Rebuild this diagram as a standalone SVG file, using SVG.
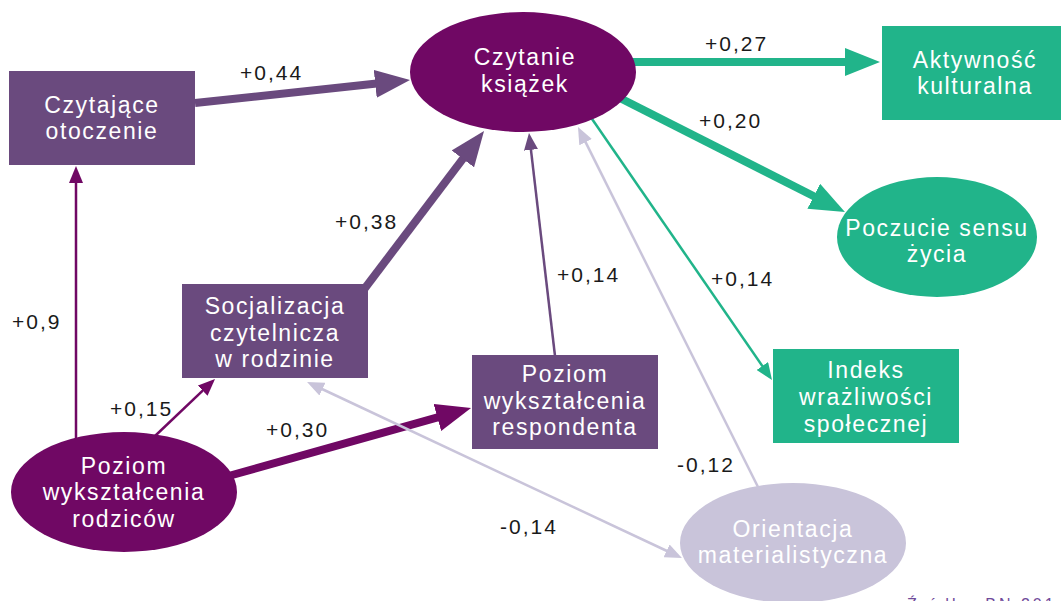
<svg xmlns="http://www.w3.org/2000/svg" width="1061" height="601" viewBox="0 0 1061 601">
<style>
.node{font-family:"Liberation Sans",Arial,sans-serif;font-size:23px;letter-spacing:1.6px;fill:#ffffff;text-anchor:middle}
.lbl{font-family:"Liberation Sans",Arial,sans-serif;font-size:21px;letter-spacing:2px;fill:#1a1a1a}
.purple{fill:#6a4a7e}
.magenta{fill:#700864}
.green{fill:#21b48a}
.lav{fill:#c9c4da}
.c{fill:none;stroke-linecap:butt}
.cp{stroke:#6a4a7e}
.cm{stroke:#700864}
.cg{stroke:#21b48a}
.cl{stroke:#c9c4da}
.thick{stroke-width:8}
.thin{stroke-width:2.5}
.src{font-family:"Liberation Sans",Arial,sans-serif;font-size:16px;letter-spacing:3px;fill:#6f4a9a}
</style>
<defs>
<marker id="bigP" markerUnits="userSpaceOnUse" markerWidth="36" markerHeight="28" refX="4" refY="14" orient="auto"><path d="M0,0 L35,14 L0,28 Z" fill="#6a4a7e"/></marker>
<marker id="bigM" markerUnits="userSpaceOnUse" markerWidth="36" markerHeight="28" refX="4" refY="14" orient="auto"><path d="M0,0 L35,14 L0,28 Z" fill="#700864"/></marker>
<marker id="bigG" markerUnits="userSpaceOnUse" markerWidth="36" markerHeight="28" refX="4" refY="14" orient="auto"><path d="M0,0 L35,14 L0,28 Z" fill="#21b48a"/></marker>
<marker id="smP" markerUnits="userSpaceOnUse" markerWidth="18" markerHeight="14" refX="4" refY="7" orient="auto"><path d="M0,0 L17,7 L0,14 Z" fill="#6a4a7e"/></marker>
<marker id="smM" markerUnits="userSpaceOnUse" markerWidth="18" markerHeight="14" refX="4" refY="7" orient="auto"><path d="M0,0 L17,7 L0,14 Z" fill="#700864"/></marker>
<marker id="smG" markerUnits="userSpaceOnUse" markerWidth="18" markerHeight="14" refX="4" refY="7" orient="auto"><path d="M0,0 L17,7 L0,14 Z" fill="#21b48a"/></marker>
<marker id="smL" markerUnits="userSpaceOnUse" markerWidth="18" markerHeight="14" refX="4" refY="7" orient="auto-start-reverse"><path d="M0,0 L17,7 L0,14 Z" fill="#c9c4da"/></marker>
</defs>
<rect width="1061" height="601" fill="#ffffff"/>
<g id="connectors">
<line class="c cp thick" x1="195" y1="103" x2="379.2" y2="83.3" marker-end="url(#bigP)"/>
<line class="c cp thick" x1="359" y1="296" x2="465.3" y2="155.7" marker-end="url(#bigP)"/>
<line class="c cp thin" x1="555" y1="356" x2="530.5" y2="145.9" marker-end="url(#smP)"/>
<line class="c cm thin" x1="76" y1="442" x2="76" y2="179" marker-end="url(#smM)"/>
<line class="c cm thin" x1="155" y1="436" x2="205.6" y2="387.9" marker-end="url(#smM)"/>
<line class="c cm thick" x1="225" y1="477" x2="441.2" y2="416.4" marker-end="url(#bigM)"/>
<line class="c cg thick" x1="630" y1="62" x2="849" y2="62" marker-end="url(#bigG)"/>
<line class="c cg thick" x1="610" y1="93" x2="817.3" y2="198" marker-end="url(#bigG)"/>
<line class="c cg thin" x1="590" y1="116" x2="764.6" y2="369.3" marker-end="url(#smG)"/>
<line class="c cl thin" x1="759" y1="489" x2="583.8" y2="138.6" marker-end="url(#smL)"/>
<line class="c cl thin" x1="318.8" y1="387.5" x2="670.2" y2="552.5" marker-start="url(#smL)" marker-end="url(#smL)"/>
</g>
<g id="labels">
<text class="lbl" x="240" y="80">+0,44</text>
<text class="lbl" x="705" y="51">+0,27</text>
<text class="lbl" x="699" y="128">+0,20</text>
<text class="lbl" x="711" y="286">+0,14</text>
<text class="lbl" x="335" y="229">+0,38</text>
<text class="lbl" x="557" y="282">+0,14</text>
<text class="lbl" x="12" y="329">+0,9</text>
<text class="lbl" x="110" y="416">+0,15</text>
<text class="lbl" x="266" y="437">+0,30</text>
<text class="lbl" x="677" y="472">-0,12</text>
<text class="lbl" x="500" y="534">-0,14</text>
</g>
<g id="czytajace-otoczenie">
<rect class="purple" x="9" y="71" width="186" height="94"/>
<text class="node" x="102" y="113">Czytające</text>
<text class="node" x="102" y="139">otoczenie</text>
</g>
<g id="czytanie-ksiazek">
<ellipse class="magenta" cx="523" cy="72" rx="113" ry="60"/>
<text class="node" x="525" y="65">Czytanie</text>
<text class="node" x="525" y="92">książek</text>
</g>
<g id="aktywnosc-kulturalna">
<rect class="green" x="882" y="26" width="179" height="94"/>
<text class="node" x="975" y="68">Aktywność</text>
<text class="node" x="975" y="94">kulturalna</text>
</g>
<g id="poczucie-sensu-zycia">
<ellipse class="green" cx="937" cy="237" rx="100" ry="60"/>
<text class="node" x="937" y="236">Poczucie sensu</text>
<text class="node" x="937" y="262">życia</text>
</g>
<g id="indeks-wrazliwosci">
<rect class="green" x="773" y="349" width="186" height="94"/>
<text class="node" x="866" y="378">Indeks</text>
<text class="node" x="866" y="405">wrażliwości</text>
<text class="node" x="866" y="432">społecznej</text>
</g>
<g id="poziom-respondenta">
<rect class="purple" x="472" y="355" width="186" height="94"/>
<text class="node" x="565" y="382">Poziom</text>
<text class="node" x="565" y="408.5">wykształcenia</text>
<text class="node" x="565" y="435">respondenta</text>
</g>
<g id="socjalizacja">
<rect class="purple" x="182" y="284" width="186" height="94"/>
<text class="node" x="275" y="314">Socjalizacja</text>
<text class="node" x="275" y="341">czytelnicza</text>
<text class="node" x="275" y="367">w rodzinie</text>
</g>
<g id="poziom-rodzicow">
<ellipse class="magenta" cx="124" cy="492" rx="113" ry="60"/>
<text class="node" x="124" y="474">Poziom</text>
<text class="node" x="124" y="500">wykształcenia</text>
<text class="node" x="124" y="527">rodziców</text>
</g>
<g id="orientacja-materialistyczna">
<ellipse class="lav" cx="793" cy="543" rx="113" ry="60"/>
<text class="node" x="793" y="537">Orientacja</text>
<text class="node" x="793" y="563">materialistyczna</text>
</g>
<text class="src" x="907" y="610">Źródło: BN 201</text>
</svg>
